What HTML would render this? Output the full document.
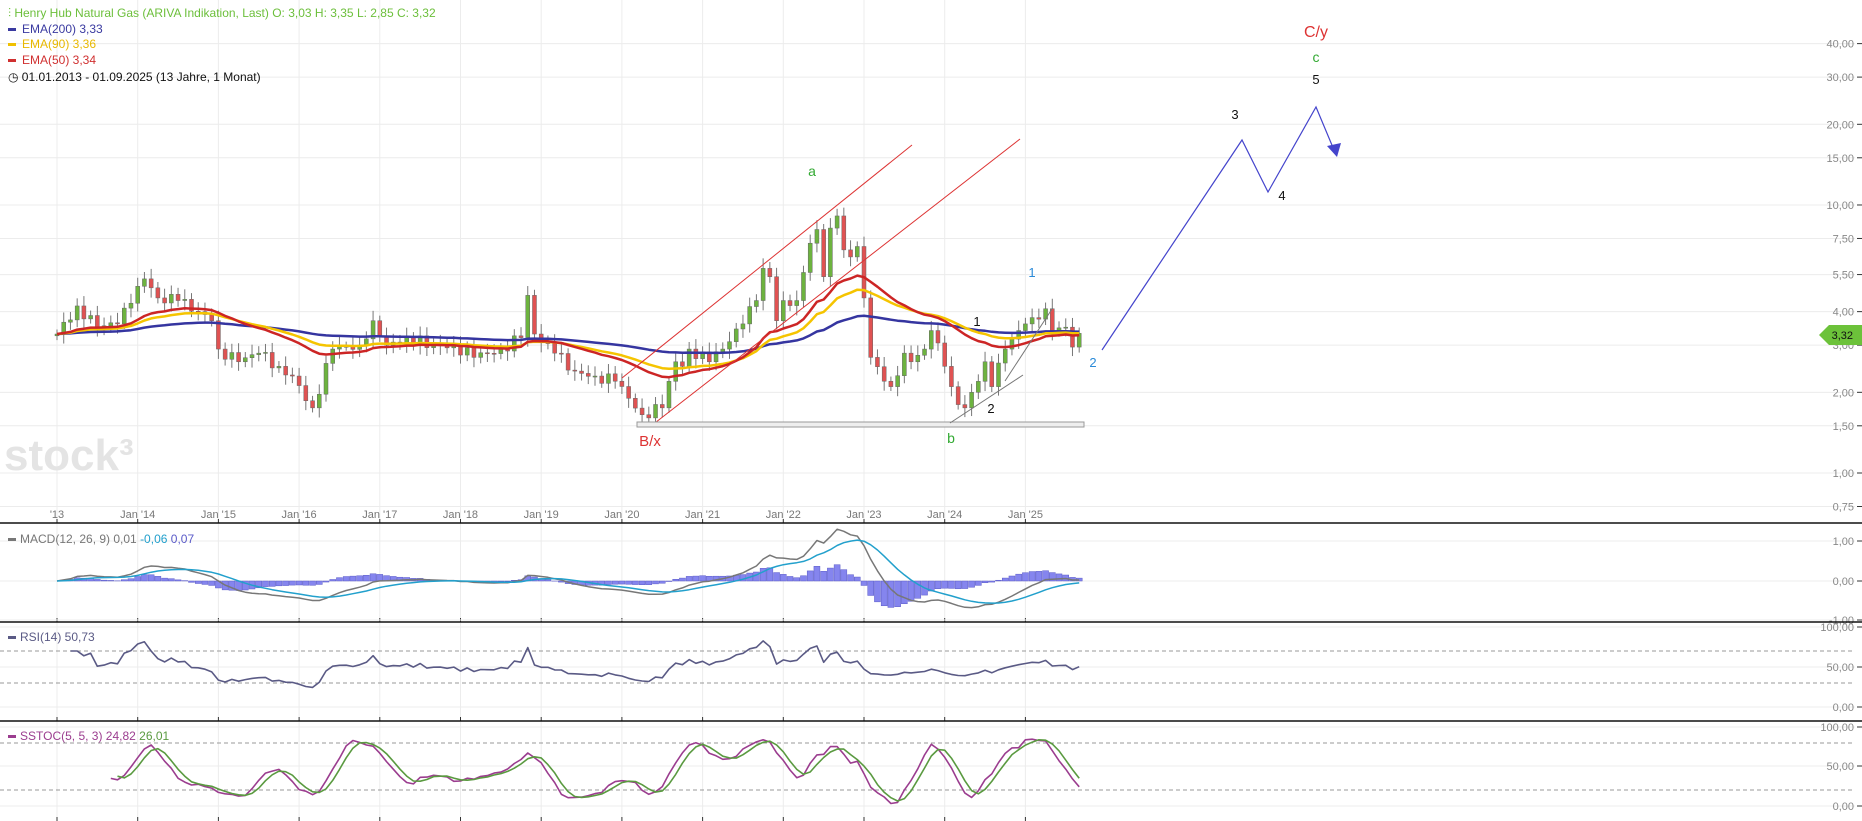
<!DOCTYPE html>
<html><head><meta charset="utf-8"><style>
body{margin:0;background:#fff;width:1862px;height:821px;overflow:hidden;font-family:"Liberation Sans",sans-serif}
svg{display:block}
</style></head><body>
<svg id="s" width="1862" height="821" xmlns="http://www.w3.org/2000/svg" font-family="Liberation Sans, sans-serif"></svg>
<script>
const S=document.getElementById('s');let h='';
const X0=57,DX=80.7/12;
const xm=m=>X0+m*DX;
const yp=p=>473-116.4*Math.log(p);
const years=["'13","Jan '14","Jan '15","Jan '16","Jan '17","Jan '18","Jan '19","Jan '20","Jan '21","Jan '22","Jan '23","Jan '24","Jan '25"];
years.forEach((t,i)=>{const x=X0+i*80.7;h+=`<line x1="${x}" y1="0" x2="${x}" y2="819" stroke="#ececec"/>`;
h+=`<text x="${x}" y="518" font-size="11" fill="#777" text-anchor="middle">${t}</text>`;
[523,622,721,821].forEach(y=>h+=`<line x1="${x}" y1="${y-4}" x2="${x}" y2="${y}" stroke="#333"/>`);});
[[40,'40,00'],[30,'30,00'],[20,'20,00'],[15,'15,00'],[10,'10,00'],[7.5,'7,50'],[5.5,'5,50'],[4,'4,00'],[3,'3,00'],[2,'2,00'],[1.5,'1,50'],[1,'1,00'],[0.75,'0,75']].forEach(([p,t])=>{const y=yp(p);
h+=`<line x1="0" y1="${y}" x2="1855" y2="${y}" stroke="#ececec"/><line x1="1857" y1="${y}" x2="1862" y2="${y}" stroke="#333"/><text x="1854" y="${y+4}" font-size="11" fill="#888" text-anchor="end">${t}</text>`;});
function axis(vals){vals.forEach(([y,t])=>{h+=`<line x1="0" y1="${y}" x2="1855" y2="${y}" stroke="#ececec"/><line x1="1857" y1="${y}" x2="1862" y2="${y}" stroke="#333"/><text x="1854" y="${y+4}" font-size="11" fill="#888" text-anchor="end">${t}</text>`;});}
axis([[541,'1,00'],[581,'0,00'],[620,'-1,00']]);
axis([[627,'100,00'],[667,'50,00'],[707,'0,00']]);
axis([[727,'100,00'],[766,'50,00'],[806,'0,00']]);
[651,683,743,790].forEach(y=>h+=`<line x1="0" y1="${y}" x2="1855" y2="${y}" stroke="#999" stroke-dasharray="4,3"/>`);
[523,622,721].forEach(y=>h+=`<line x1="0" y1="${y}" x2="1862" y2="${y}" stroke="#111" stroke-width="1.5"/>`);
h+=`<text x="4" y="470" font-size="44" fill="#e4e4e4" font-weight="bold">stock³</text>`;
const K=[[0,3.3],[3,4.2],[6,3.5],[9,3.6],[11,4.3],[13,5.3],[15,4.5],[18,4.4],[21,4.0],[23,3.7],[24,2.9],[27,2.6],[30,2.8],[33,2.5],[35,2.3],[38,1.75],[41,2.9],[45,3.0],[47,3.7],[49,3.0],[52,3.2],[56,3.0],[59,3.0],[62,2.7],[66,2.9],[69,3.2],[70,4.6],[71,3.3],[74,2.8],[77,2.4],[80,2.3],[83,2.2],[85,1.9],[87,1.65],[90,1.75],[92,2.6],[93,2.5],[94,2.9],[97,2.6],[99,2.9],[102,3.6],[104,4.4],[105,5.8],[106,5.4],[107,3.7],[108,4.4],[110,4.4],[111,5.6],[112,7.2],[113,8.1],[114,5.4],[115,8.2],[116,9.1],[117,6.8],[118,6.4],[119,7.0],[120,4.5],[121,2.7],[123,2.2],[124,2.1],[126,2.8],[127,2.6],[129,2.9],[130,3.4],[132,2.5],[133,2.1],[134,1.8],[135,1.75],[136,2.0],[138,2.6],[139,2.1],[141,2.9],[143,3.4],[144,3.6],[145,3.8],[147,4.1],[148,3.4],[150,3.5],[151,2.95],[152,3.32]];
const N=153,C=[];
for(let m=0;m<N;m++){let i=0;while(i<K.length-1&&K[i+1][0]<m)i++;const a=K[i],b=K[Math.min(i+1,K.length-1)];let t=b[0]==a[0]?0:(m-a[0])/(b[0]-a[0]);t=Math.max(0,Math.min(1,t));
let v=Math.exp(Math.log(a[1])*(1-t)+Math.log(b[1])*t);v*=1+0.05*Math.sin(m*2.7)*(K.some(k=>k[0]==m)?0:1);C.push(v);}
const O=[],H=[],L=[];
for(let m=0;m<N;m++){const o=m?C[m-1]:3.25;O.push(o);const r=0.04+0.05*Math.abs(Math.sin(m*1.9));H.push(Math.max(o,C[m])*(1+r));L.push(Math.min(o,C[m])*(1-r*0.9));}
for(let m=0;m<N;m++){const x=xm(m),up=C[m]>=O[m];const c=up?'#6db33f':'#e05252';
h+=`<line x1="${x}" y1="${yp(H[m])}" x2="${x}" y2="${yp(L[m])}" stroke="#777" stroke-width="1"/>`;
const y1=yp(Math.max(O[m],C[m])),y2=yp(Math.min(O[m],C[m]));h+=`<rect x="${x-2}" y="${y1}" width="4" height="${Math.max(1,y2-y1)}" fill="${c}" stroke="#666" stroke-width="0.5"/>`;}
function ema(arr,n,seed){const k=2/(n+1);let e=seed??arr[0];return arr.map(v=>e=v*k+e*(1-k));}
function pl(arr,fy,col,w,start=0){let d='';arr.forEach((v,i)=>{if(i<start)return;d+=(d?'L':'M')+xm(i).toFixed(1)+','+fy(v).toFixed(1);});h+=`<path d="${d}" fill="none" stroke="${col}" stroke-width="${w}" stroke-linejoin="round"/>`;}
pl(ema(C,90,3.3),yp,'#3535a0',2.5);pl(ema(C,36,3.3),yp,'#f5c400',2.5);pl(ema(C,24,3.3),yp,'#cc2525',2.5);
h+=`<line x1="622" y1="378" x2="912" y2="145" stroke="#d33" stroke-width="1"/><line x1="651" y1="426" x2="1020" y2="139" stroke="#d33" stroke-width="1"/>`;
h+=`<rect x="637" y="422" width="447" height="5" fill="#eee" stroke="#999"/>`;
h+=`<line x1="950" y1="423" x2="1023" y2="375" stroke="#777"/><line x1="1005" y1="381" x2="1052" y2="309" stroke="#777"/>`;
h+=`<polyline points="1102,350 1242,140 1268,192 1316,107 1334,150" fill="none" stroke="#4444cc" stroke-width="1.2"/><polygon points="1327,146 1341,143 1337,157" fill="#4444cc"/>`;
const T=(x,y,t,c,s=14)=>h+=`<text x="${x}" y="${y}" font-size="${s}" fill="${c}" text-anchor="middle">${t}</text>`;
T(650,446,'B/x','#d33',15);T(812,176,'a','#3a3',14);T(951,443,'b','#3a3',14);T(1032,277,'1','#2a8ad8',13);T(977,326,'1','#111',13);T(991,413,'2','#111',13);T(1093,367,'2','#2a8ad8',13);
T(1316,37,'C/y','#d33',16);T(1316,62,'c','#3a3',14);T(1316,84,'5','#111',13);T(1235,119,'3','#111',13);T(1282,200,'4','#111',13);
h+=`<polygon points="1819,335 1829,325 1862,325 1862,345 1829,345" fill="#6cc23a"/><text x="1853" y="339" font-size="11" fill="#111" text-anchor="end">3,32</text>`;
const e12=ema(C,12),e26=ema(C,26),mac=e12.map((v,i)=>v-e26[i]),sig=ema(mac,9,0);const fm=v=>581-40*v;
mac.forEach((v,i)=>{const d=v-sig[i];const y=fm(d);h+=`<rect x="${xm(i)-3}" y="${Math.min(y,581)}" width="6" height="${Math.abs(y-581)}" fill="#8585ee" stroke="#5a5ac8" stroke-width="0.5"/>`;});
pl(mac,fm,'#777',1.5);pl(sig,fm,'#22a0cc',1.5);
let ag=0,al=0;const rsi=[];for(let i=0;i<N;i++){const d=i?C[i]-C[i-1]:0;ag=(ag*13+Math.max(d,0))/14;al=(al*13+Math.max(-d,0))/14;rsi.push(al==0?70:100-100/(1+ag/al));}
const fr=v=>707-0.8*v;pl(rsi,fr,'#5a5a85',1.6,2);
const kraw=[];for(let i=0;i<N;i++){const a=Math.max(0,i-4);const hh=Math.max(...H.slice(a,i+1)),ll=Math.min(...L.slice(a,i+1));kraw.push((C[i]-ll)/(hh-ll)*100);}
const sma=(a,n)=>a.map((v,i)=>{const s=a.slice(Math.max(0,i-n+1),i+1);return s.reduce((x,y)=>x+y,0)/s.length;});
const k=sma(kraw,5),d=sma(k,3);const fs=v=>806-0.79*v;pl(k,fs,'#9b3d8f',1.6,8);pl(d,fs,'#5a9a40',1.6,9);
h+=`<g font-size="12"><text x="8" y="17" fill="#6cbf3b">⫶ Henry Hub Natural Gas (ARIVA Indikation, Last)  O: 3,03  H: 3,35  L: 2,85  C: 3,32</text>
<rect x="8" y="28" width="8" height="3" fill="#3a3aa0"/><text x="22" y="33" fill="#3a3aa0">EMA(200)  3,33</text>
<rect x="8" y="43" width="8" height="3" fill="#f0c000"/><text x="22" y="48" fill="#e8b800">EMA(90)  3,36</text>
<rect x="8" y="59" width="8" height="3" fill="#d03030"/><text x="22" y="64" fill="#d03030">EMA(50)  3,34</text>
<text x="8" y="81" fill="#111">◷ 01.01.2013 - 01.09.2025  (13 Jahre, 1 Monat)</text>
<rect x="8" y="538" width="8" height="3" fill="#777"/><text x="20" y="543" fill="#777">MACD(12, 26, 9)  0,01  <tspan fill="#22a0cc">-0,06</tspan>  <tspan fill="#5a5ac8">0,07</tspan></text>
<rect x="8" y="636" width="8" height="3" fill="#5a5a85"/><text x="20" y="641" fill="#5a5a85">RSI(14)  50,73</text>
<rect x="8" y="735" width="8" height="3" fill="#9b3d8f"/><text x="20" y="740" fill="#9b3d8f">SSTOC(5, 5, 3)  24,82  <tspan fill="#5a9a40">26,01</tspan></text></g>`;
S.innerHTML=h;
</script>
</body></html>
